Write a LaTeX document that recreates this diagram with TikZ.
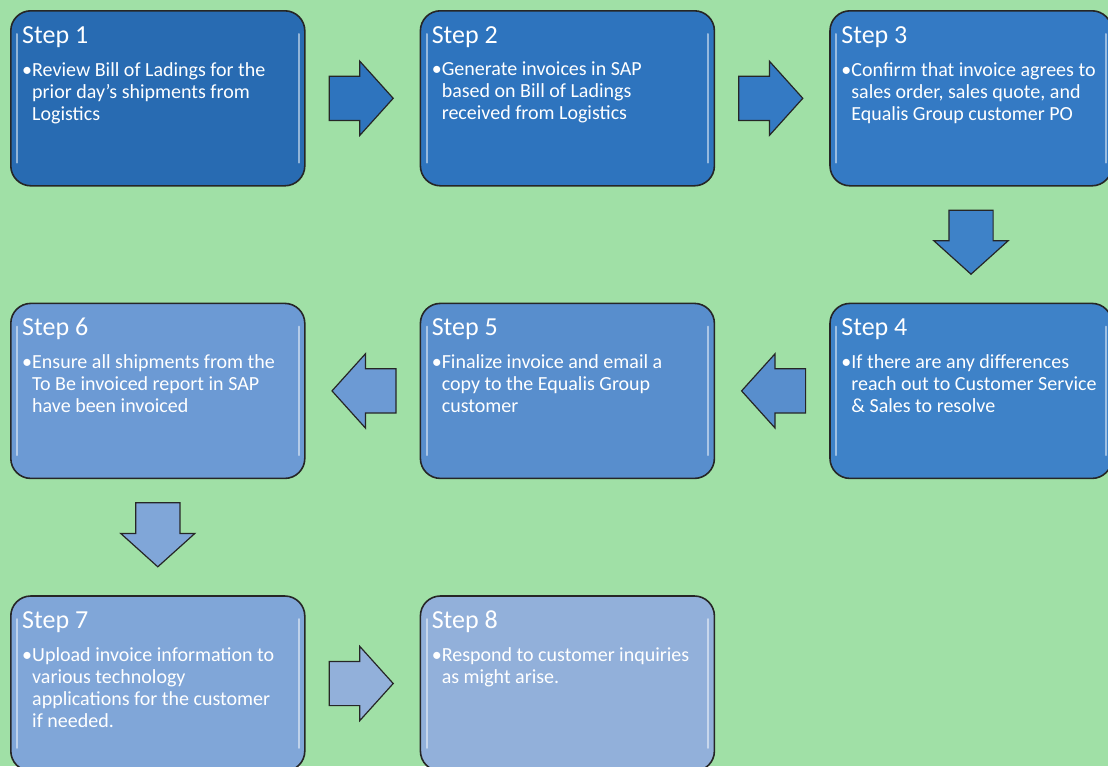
\documentclass[tikz,border=0pt]{standalone}
\usepackage{fontspec}
\setmainfont{Carlito}
\usetikzlibrary{positioning,calc,shapes.arrows}
\definecolor{bggreen}{RGB}{160,224,166}
\definecolor{blueI}{RGB}{40,107,178}
\definecolor{blueII}{RGB}{46,116,190}
\definecolor{blueIII}{RGB}{52,122,196}
\definecolor{blueIV}{RGB}{62,130,200}
\definecolor{blueV}{RGB}{88,142,205}
\definecolor{blueVI}{RGB}{108,154,212}
\definecolor{blueVII}{RGB}{128,166,216}
\definecolor{blueVIII}{RGB}{146,176,218}
\tikzstyle{card}=[draw=black!85,line width=1.6pt,rounded corners=20pt,minimum width=294pt,minimum height=175pt,inner sep=0pt]
\tikzstyle{cardtitle}=[text=white,font=\fontsize{26}{30}\selectfont,inner sep=0pt,anchor=base west]
\tikzstyle{cardtext}=[text=white,font=\fontsize{20}{22}\selectfont,inner sep=0pt,anchor=north west,align=left]
\tikzstyle{gloss}=[white,opacity=.5,line width=2pt,line cap=round]
\tikzstyle{blockarrow}=[draw=black!85,line width=1.2pt,single arrow,single arrow head extend=15pt,single arrow tip angle=96,minimum height=64pt,inner xsep=0pt,inner ysep=21.5pt,anchor=tail]
% #1 name, #2 placement, #3 colour, #4 title, #5 bullet text
\newcommand{\stepcard}[5]{\node[card,fill=#3,#2] (#1) {};
  \draw[gloss] ($(#1.north west)+(7,24)$) -- ($(#1.south west)+(7,-24)$);
  \draw[gloss] ($(#1.north east)+(-7,24)$) -- ($(#1.south east)+(-7,-24)$);
  \node[cardtitle] (#1title) at ($(#1.north west)+(12,33)$) {#4};
  \node[cardtext] (#1text) at ($(#1.north west)+(22,52)$) {\llap{\textbullet}#5};}
\begin{document}
\begin{tikzpicture}[x=1pt,y=-1pt]
  \fill[bggreen] (0,0) rectangle (1108,766);
  \useasboundingbox (0,0) rectangle (1108,766);
  \stepcard{step1}{anchor=north west,at={(10,10)}}{blueI}{Step 1}{Review Bill of Ladings for the\\prior day’s shipments from\\Logistics}
  \stepcard{step2}{right=114pt of step1}{blueII}{Step 2}{Generate invoices in SAP\\based on Bill of Ladings\\received from Logistics}
  \stepcard{step3}{right=114pt of step2,minimum width=282pt}{blueIII}{Step 3}{Confirm that invoice agrees to\\sales order, sales quote, and\\Equalis Group customer PO}
  \stepcard{step4}{below=116pt of step3,minimum width=282pt}{blueIV}{Step 4}{If there are any differences\\reach out to Customer Service\\\& Sales to resolve}
  \stepcard{step5}{left=114pt of step4}{blueV}{Step 5}{Finalize invoice and email a\\copy to the Equalis Group\\customer}
  \stepcard{step6}{left=114pt of step5}{blueVI}{Step 6}{Ensure all shipments from the\\To Be invoiced report in SAP\\have been invoiced}
  \stepcard{step7}{below=116pt of step6}{blueVII}{Step 7}{Upload invoice information to\\various technology\\applications for the customer\\if needed.}
  \stepcard{step8}{right=114pt of step7}{blueVIII}{Step 8}{Respond to customer inquiries\\as might arise.}
  % connecting block arrows
  \node[blockarrow,fill=blueII] (a12) at ($(step1.east)!23pt!(step2.west)$) {};
  \node[blockarrow,fill=blueIII] (a23) at ($(step2.east)!23pt!(step3.west)$) {};
  \node[blockarrow,fill=blueIV,rotate=-90] (a34) at ($(step3.south)!23pt!(step4.north)$) {};
  \node[blockarrow,fill=blueV,rotate=180] (a45) at ($(step4.west)!23pt!(step5.east)$) {};
  \node[blockarrow,fill=blueVI,rotate=180] (a56) at ($(step5.west)!23pt!(step6.east)$) {};
  \node[blockarrow,fill=blueVII,rotate=-90] (a67) at ($(step6.south)!23pt!(step7.north)$) {};
  \node[blockarrow,fill=blueVIII] (a78) at ($(step7.east)!23pt!(step8.west)$) {};
\end{tikzpicture}
\end{document}
